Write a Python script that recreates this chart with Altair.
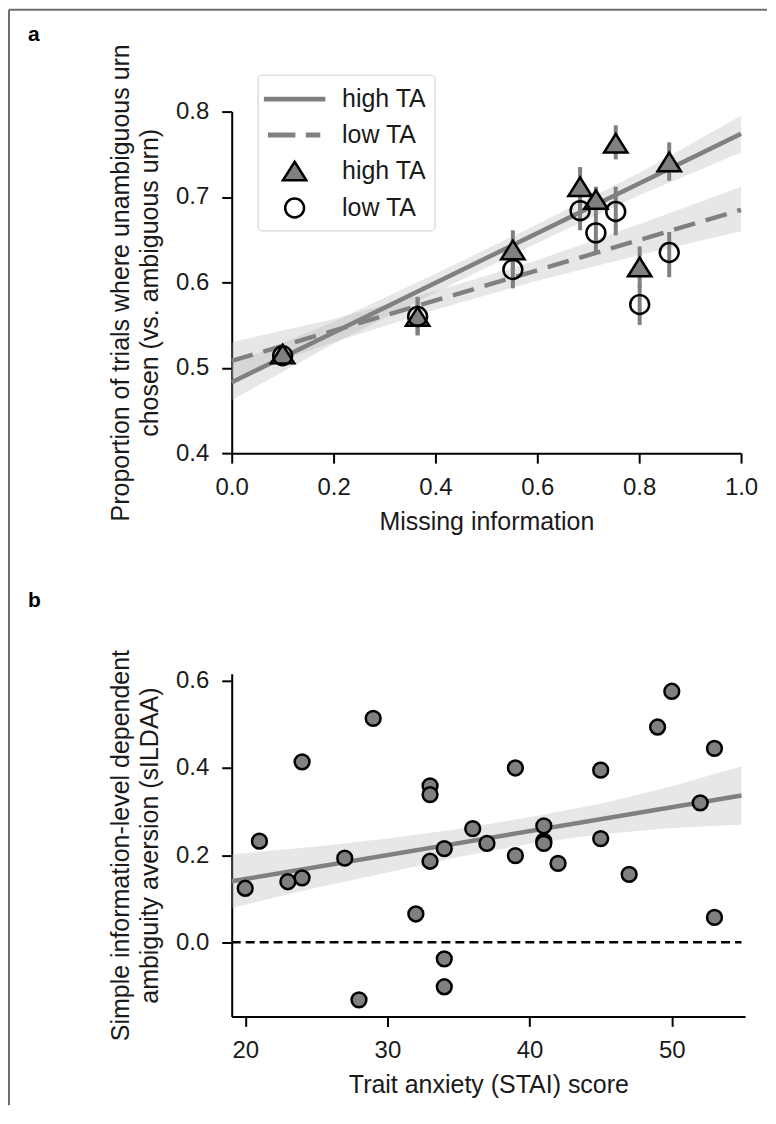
import altair as alt
import pandas as pd

FONT = "Liberation Sans"
GRAY = "#808080"
TXT = "#1a1a1a"

# ---------------- Panel a data ----------------
info_level   = [0.100, 0.365, 0.552, 0.684, 0.715, 0.754, 0.801, 0.859]
high_ta_mean = [0.516, 0.560, 0.638, 0.712, 0.697, 0.763, 0.618, 0.741]
high_ta_lo   = [0.508, 0.538, 0.615, 0.690, 0.682, 0.744, 0.594, 0.719]
high_ta_hi   = [0.524, 0.583, 0.661, 0.735, 0.712, 0.784, 0.642, 0.764]
low_ta_mean  = [0.514, 0.560, 0.615, 0.684, 0.658, 0.683, 0.574, 0.635]
low_ta_lo    = [0.506, 0.538, 0.593, 0.661, 0.636, 0.655, 0.550, 0.606]
low_ta_hi    = [0.522, 0.582, 0.637, 0.707, 0.682, 0.712, 0.598, 0.659]

fit_x      = [0.0, 1.0]
high_fit_y = [0.483, 0.774]
low_fit_y  = [0.508, 0.685]

band_x       = [0.0, 0.2, 0.4, 0.6, 0.8, 1.0]
high_band_lo = [0.462, 0.528, 0.588, 0.646, 0.702, 0.752]
high_band_hi = [0.504, 0.554, 0.610, 0.668, 0.728, 0.795]
low_band_lo  = [0.488, 0.530, 0.568, 0.602, 0.632, 0.660]
low_band_hi  = [0.530, 0.557, 0.590, 0.626, 0.668, 0.712]

a_x_ticks = [0.0, 0.2, 0.4, 0.6, 0.8, 1.0]
a_y_ticks = [0.4, 0.5, 0.6, 0.7, 0.8]

# ---------------- Panel b data ----------------
stai = [20, 21, 23, 24, 24, 27, 28, 29, 32, 33, 33, 33, 34, 34, 34, 36,
        37, 39, 39, 41, 41, 41, 42, 45, 45, 47, 49, 50, 52, 53, 53]
sildaa = [0.124, 0.232, 0.139, 0.414, 0.148, 0.193, -0.132, 0.514, 0.065,
          0.359, 0.339, 0.186, 0.215, -0.038, -0.102, 0.261, 0.227, 0.400,
          0.199, 0.267, 0.232, 0.227, 0.181, 0.395, 0.238, 0.156, 0.494,
          0.576, 0.320, 0.445, 0.057]
b_fit_x  = [19.05, 54.9]
b_fit_y  = [0.140, 0.337]
b_band_x  = [19.05, 25, 30, 35, 40, 45, 50, 54.9]
b_band_lo = [0.079, 0.125, 0.160, 0.196, 0.226, 0.248, 0.262, 0.270]
b_band_hi = [0.202, 0.220, 0.238, 0.260, 0.287, 0.318, 0.358, 0.404]
zero_y = [0.0]
zero_x_start = [19.05]
zero_x_end = [54.9]
b_x_ticks = [20, 30, 40, 50]
b_y_ticks = [0.0, 0.2, 0.4, 0.6]

# ---------------- legend / marker shapes ----------------
key_domain = ["line_high", "line_low", "high", "low"]
shape_range = [
    "M-1.97,-0.08L1.97,-0.08L1.97,0.08L-1.97,0.08Z",
    "M-1.7,-0.08L-0.03,-0.08L-0.03,0.08L-1.7,0.08ZM0.83,-0.08L1.63,-0.08L1.63,0.08L0.83,0.08Z",
    "M0,-0.62L0.78,0.62L-0.78,0.62Z",
    "M0.63,0A0.63,0.63,0,1,1,-0.63,0A0.63,0.63,0,1,1,0.63,0Z",
]
fill_range = [GRAY, GRAY, GRAY, "transparent"]
stroke_range = [GRAY, GRAY, "black", "black"]

# ---------------- tables ----------------
n = len(info_level)
pts_a = pd.DataFrame({"x": info_level * 2, "y": high_ta_mean + low_ta_mean,
                      "key": ["high"] * n + ["low"] * n})
err_a = pd.DataFrame({"x": info_level * 2, "lo": high_ta_lo + low_ta_lo,
                      "hi": high_ta_hi + low_ta_hi})
fit_a = pd.DataFrame({"x": fit_x * 2, "y": high_fit_y + low_fit_y,
                      "series": ["high"] * 2 + ["low"] * 2})
m = len(band_x)
band_a = pd.DataFrame({"x": band_x * 2, "lo": high_band_lo + low_band_lo,
                       "hi": high_band_hi + low_band_hi,
                       "series": ["high"] * m + ["low"] * m})

pts_b = pd.DataFrame({"x": stai, "y": sildaa})
fit_b = pd.DataFrame({"x": b_fit_x, "y": b_fit_y})
band_b = pd.DataFrame({"x": b_band_x, "lo": b_band_lo, "hi": b_band_hi})
zero_b = pd.DataFrame({"y": zero_y, "x": zero_x_start, "x2": zero_x_end})

# ---------------- encodings ----------------
def xa(field="x"):
    return alt.X(f"{field}:Q", scale=alt.Scale(domain=[0, 1], nice=False, zero=False),
                 axis=alt.Axis(values=a_x_ticks, format=".1f"),
                 title="Missing information")

def ya(field):
    return alt.Y(f"{field}:Q", scale=alt.Scale(domain=[0.4, 0.8], nice=False, zero=False),
                 axis=alt.Axis(values=a_y_ticks, format=".1f"),
                 title=["Proportion of trials where unambiguous urn",
                        "chosen (vs. ambiguous urn)"])

def xb(field="x"):
    return alt.X(f"{field}:Q", scale=alt.Scale(domain=[19.05, 55.15], nice=False, zero=False),
                 axis=alt.Axis(values=b_x_ticks, format="d"),
                 title="Trait anxiety (STAI) score")

def yb(field):
    return alt.Y(f"{field}:Q", scale=alt.Scale(domain=[-0.17, 0.616], nice=False, zero=False),
                 axis=alt.Axis(values=b_y_ticks, format=".1f"),
                 title=["Simple information-level dependent",
                        "ambiguity aversion (sILDAA)"])

legend_a = alt.Legend(
    title=None, orient="none", legendX=26, legendY=-37, padding=8,
    fillColor="white", strokeColor="#cccccc", cornerRadius=4,
    labelFontSize=25, labelFont=FONT, labelColor=TXT,
    symbolSize=900, symbolStrokeWidth=2.5, symbolOffset=12.5, labelOffset=31,
    rowPadding=6,
    labelExpr="indexof(datum.label, 'high') >= 0 ? 'high TA' : 'low TA'",
)

# ---------------- panel a ----------------
band_a_layer = alt.Chart(band_a).mark_area(color="#b0b0b0", opacity=0.3).encode(
    x=xa(), y=ya("lo"), y2="hi", detail="series:N")
fit_a_layer = alt.Chart(fit_a).mark_line(color=GRAY, strokeWidth=4.5).encode(
    x=xa(), y=ya("y"),
    strokeDash=alt.StrokeDash("series:N", scale=alt.Scale(domain=["high", "low"],
                              range=[[1, 0], [22, 11]]), legend=None))
err_a_layer = alt.Chart(err_a).mark_rule(color=GRAY, strokeWidth=4).encode(
    x=xa(), y=ya("lo"), y2="hi")
pts_a_layer = alt.Chart(pts_a).mark_point(size=900, strokeWidth=2.5, opacity=1).encode(
    x=xa(), y=ya("y"),
    shape=alt.Shape("key:N", scale=alt.Scale(domain=key_domain, range=shape_range), legend=legend_a),
    fill=alt.Fill("key:N", scale=alt.Scale(domain=key_domain, range=fill_range), legend=legend_a),
    stroke=alt.Stroke("key:N", scale=alt.Scale(domain=key_domain, range=stroke_range), legend=legend_a),
)
label_a = alt.Chart(alt.Data(values=[{"t": "a"}])).mark_text(
    align="left", baseline="alphabetic", fontSize=21, fontWeight="bold", font=FONT, color="black"
).encode(text="t:N", x=alt.value(-204), y=alt.value(-71))
frame_left = alt.Chart(alt.Data(values=[{}])).mark_rule(color="#6e6e6e", strokeWidth=2).encode(
    x=alt.value(-223), y=alt.value(-102), y2=alt.value(995))
frame_top = alt.Chart(alt.Data(values=[{}])).mark_rule(color="#6e6e6e", strokeWidth=2).encode(
    x=alt.value(-223), x2=alt.value(536), y=alt.value(-102))

panel_a = alt.layer(band_a_layer, fit_a_layer, err_a_layer, pts_a_layer, label_a,
                    frame_left, frame_top).properties(width=510, height=342)

# ---------------- panel b ----------------
band_b_layer = alt.Chart(band_b).mark_area(color="#b0b0b0", opacity=0.3).encode(
    x=xb(), y=yb("lo"), y2="hi")
fit_b_layer = alt.Chart(fit_b).mark_line(color=GRAY, strokeWidth=4.5).encode(
    x=xb(), y=yb("y"))
zero_layer = alt.Chart(zero_b).mark_rule(color="black", strokeWidth=2.5, strokeDash=[9, 5]).encode(
    x=xb(), x2="x2", y=yb("y"))
pts_b_layer = alt.Chart(pts_b).mark_circle(size=220, color=GRAY, stroke="black",
                                           strokeWidth=2.5, opacity=1).encode(
    x=xb(), y=yb("y"))
label_b = alt.Chart(alt.Data(values=[{"t": "b"}])).mark_text(
    align="left", baseline="alphabetic", fontSize=21, fontWeight="bold", font=FONT, color="black"
).encode(text="t:N", x=alt.value(-204), y=alt.value(-67))

panel_b = alt.layer(band_b_layer, fit_b_layer, zero_layer, pts_b_layer, label_b).properties(
    width=514, height=343)

chart = alt.vconcat(panel_a, panel_b, spacing=221, bounds="flush").properties(
    padding={"left": 0, "top": 0, "right": 0, "bottom": 0}
).configure(font=FONT).configure_view(stroke=None).configure_axis(
    labelFont=FONT, labelFontSize=24, labelColor=TXT,
    titleFont=FONT, titleFontSize=25, titleFontWeight="normal", titleColor=TXT,
    domainColor="black", domainWidth=2, tickColor="black", tickWidth=2, tickSize=10,
    grid=False, labelFlush=False, titleLineHeight=29,
).configure_axisX(labelPadding=12, titlePadding=10).configure_axisY(labelPadding=13, titlePadding=13)

chart.save("out.html", embed_options={"renderer": "svg", "actions": False})
